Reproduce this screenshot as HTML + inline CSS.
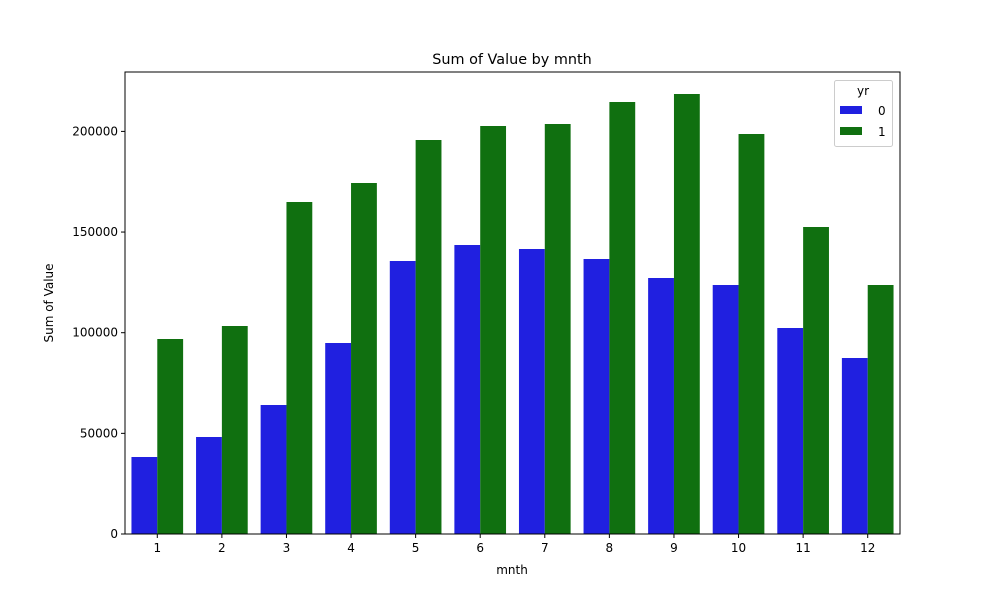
<!DOCTYPE html>
<html><head><style>body{margin:0;background:#fff}svg{display:block;font-family:"DejaVu Sans","Liberation Sans",sans-serif}</style></head><body>
<svg width="1000" height="600" xmlns="http://www.w3.org/2000/svg">
<rect width="1000" height="600" fill="#fff"/>
<g fill="#2020e0">
<rect x="131.46" y="457" width="25.83" height="77"/>
<rect x="196.05" y="437" width="25.83" height="97"/>
<rect x="260.63" y="405" width="25.83" height="129"/>
<rect x="325.21" y="343" width="25.83" height="191"/>
<rect x="389.80" y="261" width="25.83" height="273"/>
<rect x="454.38" y="245" width="25.83" height="289"/>
<rect x="518.96" y="249" width="25.83" height="285"/>
<rect x="583.55" y="259" width="25.83" height="275"/>
<rect x="648.13" y="278" width="25.83" height="256"/>
<rect x="712.71" y="285" width="25.83" height="249"/>
<rect x="777.30" y="328" width="25.83" height="206"/>
<rect x="841.88" y="358" width="25.83" height="176"/>
</g>
<g fill="#107010">
<rect x="157.29" y="339" width="25.83" height="195"/>
<rect x="221.88" y="326" width="25.83" height="208"/>
<rect x="286.46" y="202" width="25.83" height="332"/>
<rect x="351.04" y="183" width="25.83" height="351"/>
<rect x="415.63" y="140" width="25.83" height="394"/>
<rect x="480.21" y="126" width="25.83" height="408"/>
<rect x="544.79" y="124" width="25.83" height="410"/>
<rect x="609.38" y="102" width="25.83" height="432"/>
<rect x="673.96" y="94" width="25.83" height="440"/>
<rect x="738.54" y="134" width="25.83" height="400"/>
<rect x="803.13" y="227" width="25.83" height="307"/>
<rect x="867.71" y="285" width="25.83" height="249"/>
</g>
<g stroke="#000" stroke-width="1">
<line x1="157.29" y1="534" x2="157.29" y2="538"/><line x1="221.88" y1="534" x2="221.88" y2="538"/>
<line x1="286.46" y1="534" x2="286.46" y2="538"/><line x1="351.04" y1="534" x2="351.04" y2="538"/>
<line x1="415.63" y1="534" x2="415.63" y2="538"/><line x1="480.21" y1="534" x2="480.21" y2="538"/>
<line x1="544.79" y1="534" x2="544.79" y2="538"/><line x1="609.38" y1="534" x2="609.38" y2="538"/>
<line x1="673.96" y1="534" x2="673.96" y2="538"/><line x1="738.54" y1="534" x2="738.54" y2="538"/>
<line x1="803.13" y1="534" x2="803.13" y2="538"/><line x1="867.71" y1="534" x2="867.71" y2="538"/>
<line x1="121" y1="534" x2="125" y2="534"/><line x1="121" y1="433.35" x2="125" y2="433.35"/>
<line x1="121" y1="332.7" x2="125" y2="332.7"/><line x1="121" y1="232.05" x2="125" y2="232.05"/>
<line x1="121" y1="131.4" x2="125" y2="131.4"/>
</g>
<g font-size="12" text-anchor="middle">
<text x="157.29" y="552">1</text><text x="221.88" y="552">2</text><text x="286.46" y="552">3</text>
<text x="351.04" y="552">4</text><text x="415.63" y="552">5</text><text x="480.21" y="552">6</text>
<text x="544.79" y="552">7</text><text x="609.38" y="552">8</text><text x="673.96" y="552">9</text>
<text x="738.54" y="552">10</text><text x="803.13" y="552">11</text><text x="867.71" y="552">12</text>
</g>
<g font-size="12" text-anchor="end">
<text x="118" y="538">0</text><text x="118" y="437.35">50000</text><text x="118" y="336.7">100000</text>
<text x="118" y="236.05">150000</text><text x="118" y="135.4">200000</text>
</g>
<rect x="125" y="72" width="775" height="462" fill="none" stroke="#000" stroke-width="1"/>
<text x="512" y="64" font-size="14.4" text-anchor="middle">Sum of Value by mnth</text>
<text x="512" y="574" font-size="12" text-anchor="middle">mnth</text>
<text x="53" y="303" font-size="12" text-anchor="middle" transform="rotate(-90 53 303)">Sum of Value</text>
<rect x="834.5" y="80.5" width="58" height="66" rx="2" fill="#fff" stroke="#ccc"/>
<text x="863" y="95" font-size="12" text-anchor="middle">yr</text>
<rect x="840" y="106" width="22" height="8" fill="#2020e0"/>
<text x="878" y="115" font-size="12">0</text>
<rect x="840" y="127" width="22" height="8" fill="#107010"/>
<text x="878" y="136" font-size="12">1</text>
</svg>
</body></html>
